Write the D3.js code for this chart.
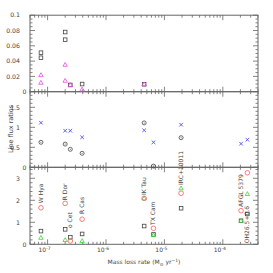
<!DOCTYPE html>
<meta charset="utf-8">
<title>Line flux ratios</title>
<style>
body { margin: 0; background: #fff; }
text { font-family: "DejaVu Sans", sans-serif; fill: #444; }
.frame { fill: none; stroke: #666; stroke-width: 1; }
.tick { stroke: #666; stroke-width: 0.8; }
</style>
<svg width="273" height="273"></svg>
<script src="https://d3js.org/d3.v7.min.js"></script>
<script>

// stars and their mass loss rates (Msun/yr)
var stars = ["W Hya", "R Dor", "o Cet", "R Cas", "IK Tau", "TX Cam", "IRC+10011", "AFGL 5379", "OH26.5+0.6"];
var massLoss = [7.7e-8, 2.0e-7, 2.45e-7, 3.9e-7, 4.5e-6, 6.5e-6, 1.93e-5, 2.05e-4, 2.63e-4];

// top panel
var topSquareA = [0.051, 0.078, 0.0088, 0.010, 0.0097, null, null, null, null];
var topSquareB = [0.0444, 0.068, null, null, null, null, null, null, null];
var topTriA = [0.0218, 0.0353, 0.0088, 0.003, 0.0097, null, null, null, null];
var topTriB = [0.0118, 0.0144, null, null, null, null, null, null, null];

// middle panel
var midCross = [1.115, 0.915, 0.915, 0.75, 0.925, 0.625, 1.065, 0.59, 0.69];
var midCircle = [0.625, 0.58, 0.45, 0.35, 1.11, 0.03, 0.74, null, null];

// bottom panel
var botCircle = [1.66, 1.86, 0.15, 1.14, 2.09, 0.73, 2.32, 1.53, 3.25];
var botSquare = [0.6, 0.68, 0.32, 0.47, 0.83, 0.45, 1.64, 1.07, 1.38];
var botTri = [0.3, 0.2, null, 0.15, 2.09, 0.42, 2.55, 1.07, 2.29];
var labelAt = [1.87, 2.0, 0.74, 1.38, 2.24, 0.88, 2.7, 1.70, 0.05];

var xTickLabels = ["10", "10", "10", "10"];
var xTickExp = ["-7", "-6", "-5", "-4"];
var xTickVals = [1e-7, 1e-6, 1e-5, 1e-4];

var svg = d3.select("svg");

var x = d3.scaleLog().domain([5e-8, 4e-4]).range([30, 258]);

var yTop = d3.scaleLinear().domain([0, 0.1]).range([91.7, 15.2]);
var yMid = d3.scaleLinear().domain([0, 1.89]).range([167.3, 91.7]);
var yBot = d3.scaleLinear().domain([0, 3.5]).range([244.3, 167.3]);

var minorX = [];
for (var d = -8; d <= -4; d++) {
  for (var m = 1; m <= 9; m++) {
    var v = m * Math.pow(10, d);
    if (v >= 5e-8 && v <= 4e-4) minorX.push(v);
  }
}

function panel(y, major, minor, labels) {
  var y0 = y.range()[0], y1 = y.range()[1];
  var g = svg.append("g");
  g.append("rect").attr("class", "frame")
    .attr("x", 30).attr("y", y1).attr("width", 228).attr("height", y0 - y1);

  minorX.forEach(function(v) {
    var big = Math.abs(Math.log10(v) - Math.round(Math.log10(v))) < 1e-9;
    var len = big ? 5 : 2.5;
    g.append("line").attr("class", "tick")
      .attr("x1", x(v)).attr("x2", x(v)).attr("y1", y0).attr("y2", y0 - len);
    g.append("line").attr("class", "tick")
      .attr("x1", x(v)).attr("x2", x(v)).attr("y1", y1).attr("y2", y1 + len);
  });

  var dom = y.domain();
  d3.range(0, dom[1] + 1e-9, minor).forEach(function(v) {
    var big = Math.abs(v / major - Math.round(v / major)) < 1e-6;
    var len = big ? 5 : 2.5;
    g.append("line").attr("class", "tick")
      .attr("x1", 30).attr("x2", 30 + len).attr("y1", y(v)).attr("y2", y(v));
    g.append("line").attr("class", "tick")
      .attr("x1", 258).attr("x2", 258 - len).attr("y1", y(v)).attr("y2", y(v));
  });

  labels.forEach(function(l) {
    g.append("text")
      .attr("x", l[0] == 0 ? 22.5 : 20)
      .attr("y", y(l[0]) + 2.2)
      .attr("text-anchor", l[0] == 0 ? "start" : "end")
      .style("font-size", "6.2px")
      .text(l[1]);
  });
  return g;
}

panel(yTop, 0.02, 0.005, [[0.1, "0.1"], [0.08, "0.08"], [0.06, "0.06"], [0.04, "0.04"], [0.02, "0.02"], [0, "0"]]);
panel(yMid, 0.5, 0.1, [[1.5, "1.5"], [1, "1"], [0.5, "0.5"], [0, "0"]]);
panel(yBot, 1, 0.2, [[3, "3"], [2, "2"], [1, "1"], [0, "0"]]);

// symbols
function pairs(vals) {
  return vals.map(function(v, i) { return [massLoss[i], v]; }).filter(function(d) { return d[1] != null; });
}
function squares(vals, y, color) {
  svg.append("g").selectAll("rect").data(pairs(vals))
    .enter().append("rect")
    .attr("x", function(d) { return x(d[0]) - 1.8; })
    .attr("y", function(d) { return y(d[1]) - 1.8; })
    .attr("width", 3.6).attr("height", 3.6)
    .attr("fill", "none").attr("stroke", color).attr("stroke-width", 0.8);
}
function triangles(vals, y, color) {
  svg.append("g").selectAll("path").data(pairs(vals))
    .enter().append("path")
    .attr("d", function(d) {
      var cx = x(d[0]), cy = y(d[1]);
      return "M" + (cx - 2.2) + "," + (cy + 1.6) + "L" + (cx + 2.2) + "," + (cy + 1.6) + "L" + cx + "," + (cy - 2.3) + "Z";
    })
    .attr("fill", "none").attr("stroke", color).attr("stroke-width", 0.8);
}
function circles(vals, y, color, r) {
  svg.append("g").selectAll("circle").data(pairs(vals))
    .enter().append("circle")
    .attr("cx", function(d) { return x(d[0]); })
    .attr("cy", function(d) { return y(d[1]); })
    .attr("r", r)
    .attr("fill", "none").attr("stroke", color).attr("stroke-width", 0.8);
}
function crosses(vals, y, color) {
  svg.append("g").selectAll("path").data(pairs(vals))
    .enter().append("path")
    .attr("d", function(d) {
      var cx = x(d[0]), cy = y(d[1]), s = 1.8;
      return "M" + (cx - s) + "," + (cy - s) + "L" + (cx + s) + "," + (cy + s) + "M" + (cx - s) + "," + (cy + s) + "L" + (cx + s) + "," + (cy - s);
    })
    .attr("fill", "none").attr("stroke", color).attr("stroke-width", 0.9);
}

squares(topSquareA, yTop, "#444");
squares(topSquareB, yTop, "#444");
triangles(topTriA, yTop, "#e050e0");
triangles(topTriB, yTop, "#e050e0");

crosses(midCross, yMid, "#5050f0");
circles(midCircle, yMid, "#444", 2);
svg.append("g").selectAll("circle").data(pairs(midCircle))
  .enter().append("circle")
  .attr("cx", function(d) { return x(d[0]); })
  .attr("cy", function(d) { return yMid(d[1]); })
  .attr("r", 0.5).attr("fill", "#444");

squares(botSquare, yBot, "#444");
triangles(botTri, yBot, "#40d040");
circles(botCircle, yBot, "#f06060", 2.3);

// star names
svg.append("g").selectAll("text").data(stars)
  .enter().append("text")
  .attr("transform", function(d, i) { return "translate(" + (x(massLoss[i]) + 2) + "," + yBot(labelAt[i]) + ") rotate(-90)"; })
  .style("font-size", "6px")
  .text(function(d) { return d; });

// x tick labels
var xl = svg.append("g").selectAll("text").data(xTickVals)
  .enter().append("text")
  .attr("x", function(d) { return x(d) - 3; })
  .attr("y", 252)
  .attr("text-anchor", "middle")
  .style("font-size", "6px");
xl.append("tspan").text(function(d, i) { return xTickLabels[i]; });
xl.append("tspan").attr("dy", -2.5).style("font-size", "4.5px").text(function(d, i) { return xTickExp[i]; });

// axis titles
var xt = svg.append("text").attr("x", 144).attr("y", 264).attr("text-anchor", "middle").style("font-size", "6px");
xt.append("tspan").text("Mass loss rate (M");
xt.append("tspan").attr("dy", 1.5).style("font-size", "4.5px").text("\u2299");
xt.append("tspan").attr("dy", -1.5).text(" yr");
xt.append("tspan").attr("dy", -2.5).style("font-size", "4.5px").text("\u22121");
xt.append("tspan").attr("dy", 2.5).text(")");

svg.append("text")
  .attr("transform", "translate(13,129) rotate(-90)")
  .attr("text-anchor", "middle")
  .style("font-size", "6.5px")
  .text("Line flux ratios");

</script>
